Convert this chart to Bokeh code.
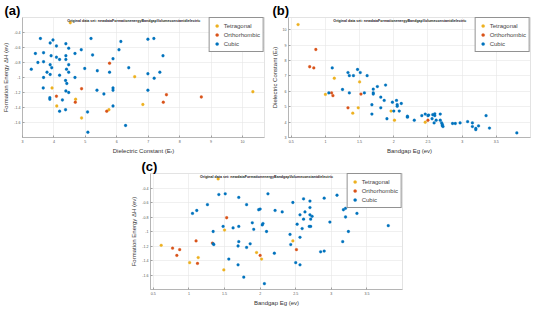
from bokeh.plotting import figure
from bokeh.models import Label, Legend, LegendItem, FixedTicker, Spacer, Title
from bokeh.layouts import column, row
from bokeh.embed import file_html
from bokeh.resources import INLINE

# ---------------- data ----------------
series_names = ["Tetragonal", "Orthorhombic", "Cubic"]
series_colors = ["#EDB120", "#D95319", "#0072BD"]
dataset_title = "Original data set: newdataFormationenergyBandgapVolumeconstantdielectric"

# (a) Dielectric constant vs formation energy
a_tet_x = [4.52, 3.94, 4.09, 4.69, 4.88, 5.75, 6.57, 6.83, 10.33]
a_tet_y = [-0.27, -1.14, -1.38, -1.29, -1.54, -1.43, -0.99, -1.36, -1.19]
a_orth_x = [4.08, 4.68, 4.88, 5.77, 5.68, 7.58, 7.48, 8.69]
a_orth_y = [-1.25, -1.33, -1.15, -0.81, -1.45, -1.23, -1.33, -1.26]
a_cub_x = [3.57, 3.41, 3.49, 3.28, 3.67, 3.67, 3.67, 3.66, 3.78, 3.88, 3.97, 3.91, 3.88, 3.93, 3.88, 4.08, 4.08, 4.18, 4.18, 3.87,
           3.87, 4.18, 4.27, 4.38, 4.38, 4.38, 4.47, 4.47, 4.40, 4.47, 4.37, 4.41, 4.38, 4.47, 4.37, 4.67, 4.67, 4.87, 4.98, 5.18,
           5.23, 5.07, 5.08, 5.38, 5.37, 5.59, 5.88, 5.77, 5.88, 5.88, 5.88, 6.07, 6.13, 6.38, 6.28, 6.99, 7.18, 7.47, 6.99, 7.37,
           7.19, 6.99]
a_cub_y = [-0.48, -0.68, -0.80, -0.89, -0.67, -0.79, -1.00, -1.14, -0.93, -0.54, -0.50, -0.71, -0.83, -0.87, -0.96, -0.58, -0.73, -0.76, -0.97, -1.27,
           -1.29, -1.45, -1.30, -0.55, -0.71, -0.76, -0.61, -0.83, -0.89, -0.93, -1.04, -1.08, -1.18, -1.20, -1.43, -0.68, -1.00, -0.63, -0.88, -0.48,
           -0.70, -1.46, -1.73, -0.91, -1.17, -1.22, -0.75, -0.93, -1.14, -1.17, -1.38, -0.63, -0.52, -0.87, -1.64, -0.49, -0.48, -0.71, -0.95, -0.93,
           -1.01, -1.17]

# (b) Bandgap vs dielectric constant
b_tet_x = [0.60, 1.13, 1.00, 1.50, 1.48, 1.40, 1.96, 2.01, 2.46]
b_tet_y = [10.34, 6.85, 5.80, 6.61, 4.93, 4.58, 4.72, 4.12, 3.99]
b_orth_x = [0.86, 0.77, 0.83, 1.09, 1.11, 1.33, 1.52, 2.50]
b_orth_y = [8.72, 7.60, 7.52, 5.90, 5.72, 4.93, 5.82, 4.12]
b_cub_x = [1.10, 1.05, 1.25, 1.33, 1.35, 1.35, 1.41, 1.47, 1.51, 1.57, 1.61, 1.70, 1.70, 1.70, 1.76, 1.88, 1.81, 1.86, 1.68, 1.68,
           1.81, 1.90, 1.98, 2.04, 2.05, 2.05, 2.11, 2.08, 2.00, 2.20, 2.20, 2.30, 2.41, 2.46, 2.50, 2.51, 2.56, 2.57, 2.60, 2.60,
           2.59, 2.62, 2.68, 2.68, 2.70, 2.71, 2.71, 2.72, 2.86, 2.90, 2.97, 3.08, 3.15, 3.15, 3.20, 3.20, 3.24, 3.35, 3.40, 3.80]
b_cub_y = [7.52, 5.90, 6.12, 7.22, 7.02, 5.90, 7.02, 7.42, 7.22, 5.90, 7.02, 6.14, 5.90, 5.82, 6.31, 6.41, 5.62, 5.41, 5.13, 4.52,
           4.93, 4.22, 5.29, 5.41, 5.13, 5.03, 5.21, 4.72, 4.72, 4.38, 4.32, 4.12, 4.42, 4.52, 4.42, 4.46, 4.22, 4.48, 4.54, 4.42,
           3.95, 4.12, 4.52, 4.12, 3.95, 3.85, 3.77, 3.71, 3.91, 3.91, 3.95, 4.03, 3.95, 3.71, 3.51, 3.59, 3.75, 4.42, 3.61, 3.30]

# (c) Bandgap vs formation energy
c_tet_x = [1.41, 0.61, 1.01, 1.13, 1.50, 1.49, 1.95, 2.02, 2.46]
c_tet_y = [-0.275, -1.19, -1.43, -1.36, -0.98, -1.53, -1.29, -1.38, -1.13]
c_orth_x = [0.77, 0.83, 0.87, 1.10, 1.12, 1.33, 1.53, 2.00, 2.51]
c_orth_y = [-1.23, -1.33, -1.25, -1.13, -1.44, -1.16, -0.81, -1.33, -1.25]
c_cub_x = [1.05, 1.11, 1.26, 1.42, 1.51, 1.70, 1.81, 1.34, 1.34, 1.35, 1.48, 1.62, 1.70, 1.70, 1.69, 1.56, 1.69, 1.77, 1.81, 1.86,
           1.89, 1.91, 1.98, 2.00, 2.03, 2.04, 2.09, 2.11, 2.21, 2.20, 2.06, 2.31, 2.42, 2.43, 2.46, 2.50, 2.52, 2.56, 2.56, 2.56,
           2.59, 2.61, 2.63, 2.61, 2.70, 2.70, 2.70, 2.71, 2.73, 2.69, 2.71, 2.85, 2.90, 2.90, 2.98, 3.08, 3.16, 3.17, 3.20, 3.20,
           3.24, 3.36, 3.41, 3.80]
c_cub_y = [-0.75, -0.71, -0.63, -0.49, -0.48, -0.53, -0.63, -1.00, -1.17, -1.18, -0.93, -0.95, -0.93, -1.14, -1.20, -1.38, -1.46, -1.63, -1.22, -1.17,
           -0.88, -0.97, -0.70, -0.69, -0.91, -0.89, -1.00, -0.48, -0.71, -1.30, -1.72, -0.73, -1.04, -1.18, -0.60, -1.43, -0.90, -0.77, -1.08, -1.46,
           -0.96, -0.55, -0.73, -0.83, -0.58, -0.67, -0.77, -0.83, -0.79, -0.93, -0.93, -1.28, -1.27, -0.54, -0.87, -0.50, -1.14, -0.70, -0.68, -0.80,
           -1.00, -0.75, -0.48, -0.92]

# ticks
diel_ticks = [3, 4, 5, 6, 7, 8, 9, 10]
diel_tick_labels = ["3", "4", "5", "6", "7", "8", "9", "10"]
gap_ticks = [0.5, 1, 1.5, 2, 2.5, 3, 3.5]
gap_tick_labels = ["0.5", "1", "1.5", "2", "2.5", "3", "3.5"]
form_ticks = [-0.4, -0.6, -0.8, -1.0, -1.2, -1.4, -1.6]
form_tick_labels = ["-0.4", "-0.6", "-0.8", "-1", "-1.2", "-1.4", "-1.6"]

FONT = "Liberation Sans"


def make_panel(tag, tag_offset, w, h, xr, yr, xticks, xlabels, yticks, ylabels, xtitle, ytitle, series):
    p = figure(width=w, height=h, x_range=xr, y_range=yr, output_backend="svg",
               toolbar_location=None, min_border_left=0, min_border_right=4,
               min_border_top=0, min_border_bottom=0)
    p.title = Title(text=tag, align="left", offset=tag_offset, standoff=0,
                    text_font=FONT, text_font_size="13px", text_font_style="bold",
                    text_color="#000000")
    p.background_fill_color = "white"
    p.border_fill_color = "white"
    p.outline_line_color = "#e3e3e3"
    p.xaxis.ticker = FixedTicker(ticks=xticks)
    p.yaxis.ticker = FixedTicker(ticks=yticks)
    p.xaxis.major_label_overrides = {t: l for t, l in zip(xticks, xlabels)}
    p.yaxis.major_label_overrides = {t: l for t, l in zip(yticks, ylabels)}
    p.xgrid.ticker = FixedTicker(ticks=xticks)
    p.ygrid.ticker = FixedTicker(ticks=yticks)
    p.grid.grid_line_color = "#e6e6e6"
    p.grid.grid_line_width = 0.6
    p.axis.axis_line_color = "#a0a0a0"
    p.axis.axis_line_width = 0.7
    p.axis.major_tick_line_color = "#a0a0a0"
    p.axis.major_tick_in = 2
    p.axis.major_tick_out = 0
    p.axis.minor_tick_line_color = None
    p.axis.major_label_text_font = FONT
    p.axis.major_label_text_font_size = "3.6px"
    p.axis.major_label_text_color = "#555555"
    p.axis.major_label_standoff = 2
    p.axis.axis_label_text_font = FONT
    p.axis.axis_label_text_font_size = "6px"
    p.axis.axis_label_text_font_style = "normal"
    p.axis.axis_label_text_color = "#333333"
    p.axis.axis_label_standoff = 2
    p.xaxis.axis_label = xtitle
    p.yaxis.axis_label = ytitle

    items = []
    for (xs, ys), name, col in zip(series, series_names, series_colors):
        r = p.scatter(xs, ys, marker="circle", size=2.8, fill_color=col, line_color=col, line_width=0.3)
        items.append(LegendItem(label=name, renderers=[r]))
    leg = Legend(items=items, location="top_right")
    leg.margin = 0
    leg.padding = 3
    leg.spacing = 0
    leg.border_line_color = "#262626"
    leg.border_line_width = 0.8
    leg.background_fill_alpha = 1
    leg.label_text_font = FONT
    leg.label_text_font_size = "6px"
    leg.label_height = 9
    leg.glyph_height = 9
    leg.glyph_width = 8
    leg.label_standoff = 3
    p.add_layout(leg)

    p.add_layout(Label(x=(xr[0] + xr[1]) / 2 - 0.04 * (xr[1] - xr[0]), y=yr[1], text=dataset_title,
                       text_align="center", text_baseline="top", y_offset=-1, text_font=FONT,
                       text_font_size="3.6px", text_font_style="bold", text_color="#222222"))
    return p


pa = make_panel("(a)", -18, 268, 156, (3, 10.7), (-1.8, -0.2), diel_ticks, diel_tick_labels,
                form_ticks, form_tick_labels, "Dielectric Constant (Eᵣ)", "Formation Energy ΔH (ev)",
                [(a_tet_x, a_tet_y), (a_orth_x, a_orth_y), (a_cub_x, a_cub_y)])
pb = make_panel("(b)", -16, 266, 156, (0.46, 4.0), (3, 10.8), gap_ticks, gap_tick_labels,
                diel_ticks, diel_tick_labels, "Bandgap Eg (ev)", "Dielectric Constant (Eᵣ)",
                [(b_tet_x, b_tet_y), (b_orth_x, b_orth_y), (b_cub_x, b_cub_y)])
pc = make_panel("(c)", -9, 278, 152, (0.46, 4.0), (-1.8, -0.2), gap_ticks, gap_tick_labels,
                form_ticks, form_tick_labels, "Bandgap Eg (ev)", "Formation Energy ΔH (ev)",
                [(c_tet_x, c_tet_y), (c_orth_x, c_orth_y), (c_cub_x, c_cub_y)])

layout = column(row(pa, pb), row(Spacer(width=128, height=152), pc))

open("out.html", "w").write(file_html(layout, INLINE))
